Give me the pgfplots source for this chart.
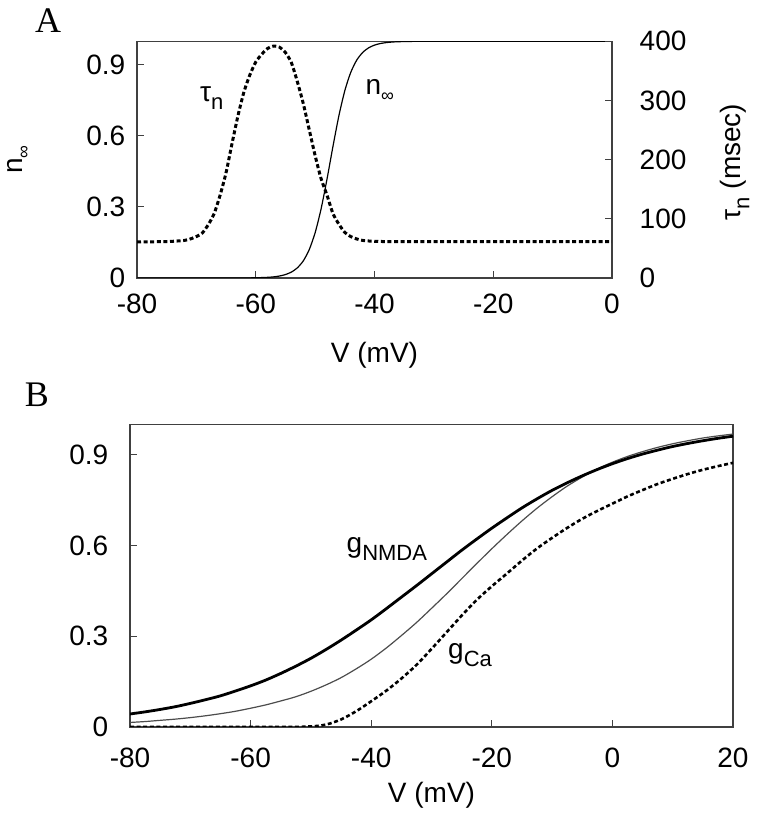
\documentclass[border=0pt]{standalone}
\usepackage{fontspec}
\setmainfont{Liberation Sans}
\newfontfamily\panelfont{Liberation Serif}
\usepackage{pgfplots}
\pgfplotsset{compat=1.18}
\newcommand\sub[1]{\raisebox{-0.3em}{\fontsize{11bp}{12bp}\selectfont #1}}
\newcommand\subinf{\raisebox{-0.25em}{\fontsize{9bp}{10bp}\selectfont ∞}}
\pgfplotsset{
  common/.style={
    scale only axis,
    tick align=inside,
    major tick length=3.5bp,
    every tick/.style={black!75, line width=0.5bp},
    axis line style={black!75, line width=0.6bp},
    tick label style={font=\fontsize{14bp}{16bp}\selectfont},
    label style={font=\fontsize{14bp}{16bp}\selectfont},
  },
  dashedcurve/.style={black, line width=1.5bp, dash pattern=on 2bp off 1.3bp},
}
\begin{document}
\fontsize{14bp}{16bp}\selectfont
\begin{tikzpicture}
\path[use as bounding box] (0,0) rectangle (379.5bp,409.5bp);
\node[font=\panelfont\fontsize{18bp}{20bp}\selectfont] at (24bp,399bp) {A};
\node[font=\panelfont\fontsize{18bp}{20bp}\selectfont] at (18.5bp,212bp) {B};
% ---------------- Panel A, left axis (n_inf)
\begin{axis}[common,
  at={(68.5bp,270.5bp)}, anchor=south west,
  width=237.5bp, height=118.35bp,
  xmin=-80, xmax=0, ymin=0, ymax=1,
  xtick={-80,-60,-40,-20,0}, xticklabels={-80,-60,-40,-20,0},
  ytick={0,0.3,0.6,0.9}, yticklabels={0,0.3,0.6,0.9},
  xtick pos=bottom, ytick pos=left,
  xticklabel style={yshift=-3bp},
  yticklabel style={xshift=-1bp},
  xlabel={V (mV)},
  xlabel style={at={(axis description cs:0.5,-0.325)}, anchor=center},
  ylabel={n\subinf},
  ylabel style={at={(axis description cs:-0.25,0.5)}, anchor=center},
]
\addplot[black, line width=0.6bp, smooth, tension=0.4] coordinates {
(-80,0)(-64,0.0001)(-62,0.0003)(-60,0.0009)(-58,0.0028)(-57,0.0048)(-56,0.0083)(-55,0.0145)(-54,0.0249)(-53,0.0427)(-52,0.072)(-51,0.1192)(-50,0.1909)(-49,0.2913)(-48,0.4174)(-47,0.5553)(-46,0.6852)(-45,0.7914)(-44,0.8686)(-43,0.9202)(-42,0.9526)(-41,0.9722)(-40,0.9839)(-39,0.9907)(-38,0.9946)(-37,0.9969)(-36,0.9982)(-34,0.9994)(-30,1)(0,1)
};
\node at (axis cs:-67.4,0.76) {τ\sub{n}};
\node at (axis cs:-39.1,0.794) {n\subinf};
\end{axis}
% ---------------- Panel A, right axis (tau_n)
\begin{axis}[common,
  at={(68.5bp,270.5bp)}, anchor=south west,
  width=237.5bp, height=118.35bp,
  xmin=-80, xmax=0, ymin=0, ymax=400,
  axis x line=none, axis y line*=right,
  ytick={0,100,200,300,400}, yticklabels={0,100,200,300,400},
  yticklabel style={xshift=9bp},
  ylabel={τ\sub{n} (msec)},
  ylabel style={at={(axis description cs:1.259,0.49)}, anchor=center},
]
\addplot[dashedcurve, smooth, tension=0.4] coordinates {
(-80,61)(-75,61.5)(-72,63.5)(-71,66)(-70,70)(-69,76)(-68,90)(-67,109)(-66,140)(-65,178)(-64,227)(-63,274)(-62,314)(-61,343)(-60,365)(-59,378)(-58,388)(-57,392)(-56,390)(-55,381)(-54,364)(-53,332)(-52,295)(-51,251)(-50,207)(-49,168)(-48,140)(-47,109)(-46,91)(-45,77)(-44,70)(-43,66)(-42,63.5)(-40,62)(-35,61.5)(0,61.5)
};
\end{axis}
% ---------------- Panel B
\begin{axis}[common,
  at={(65bp,46bp)}, anchor=south west,
  width=301.5bp, height=151.3bp,
  xmin=-80, xmax=20, ymin=0, ymax=1,
  xtick={-80,-60,-40,-20,0,20}, xticklabels={-80,-60,-40,-20,0,20},
  ytick={0,0.3,0.6,0.9}, yticklabels={0,0.3,0.6,0.9},
  xtick pos=bottom, ytick pos=left,
  xticklabel style={yshift=-5.5bp},
  yticklabel style={xshift=-6bp},
  xlabel={V (mV)},
  xlabel style={at={(axis description cs:0.5,-0.225)}, anchor=center},
]
\addplot[black!70, line width=0.6bp, smooth] coordinates {
(-80,0.015)(-77.5,0.018)(-75,0.022)(-72.5,0.026)(-70,0.031)(-67.5,0.037)(-65,0.044)(-62.5,0.052)(-60,0.062)(-57.5,0.073)(-55,0.086)(-52.5,0.100)(-50,0.118)(-47.5,0.139)(-45,0.163)(-42.5,0.192)(-40,0.224)(-37.5,0.261)(-35,0.302)(-32.5,0.345)(-30,0.392)(-27.5,0.440)(-25,0.490)(-22.5,0.540)(-20,0.589)(-17.5,0.636)(-15,0.681)(-12.5,0.723)(-10,0.761)(-7.5,0.796)(-5,0.826)(-2.5,0.853)(0,0.875)(2.5,0.894)(5,0.910)(7.5,0.924)(10,0.936)(12.5,0.946)(15,0.955)(17.5,0.962)(20,0.968)
};
\addplot[black, line width=1.4bp, smooth] coordinates {
(-80,0.043)(-77.5,0.050)(-75,0.058)(-72.5,0.067)(-70,0.078)(-67.5,0.090)(-65,0.103)(-62.5,0.119)(-60,0.136)(-57.5,0.155)(-55,0.177)(-52.5,0.201)(-50,0.227)(-47.5,0.256)(-45,0.287)(-42.5,0.320)(-40,0.354)(-37.5,0.391)(-35,0.429)(-32.5,0.467)(-30,0.506)(-27.5,0.545)(-25,0.584)(-22.5,0.621)(-20,0.657)(-17.5,0.691)(-15,0.724)(-12.5,0.754)(-10,0.782)(-7.5,0.807)(-5,0.830)(-2.5,0.851)(0,0.870)(2.5,0.887)(5,0.902)(7.5,0.915)(10,0.927)(12.5,0.937)(15,0.946)(17.5,0.954)(20,0.961)
};
\addplot[dashedcurve, line width=1.3bp, smooth] coordinates {
(-80,0)(-55,0)(-50,0.002)(-47.5,0.008)(-45,0.025)(-42.5,0.052)(-40,0.085)(-37.5,0.12)(-35,0.16)(-32.5,0.205)(-30,0.258)(-27.5,0.313)(-25,0.368)(-22.5,0.42)(-20,0.465)(-17.5,0.507)(-15,0.55)(-12.5,0.59)(-10,0.625)(-7.5,0.658)(-5,0.688)(-2.5,0.714)(0,0.738)(2.5,0.762)(5,0.783)(7.5,0.803)(10,0.82)(12.5,0.836)(15,0.85)(17.5,0.862)(20,0.873)
};
\node at (axis cs:-37.4,0.588) {g\sub{NMDA}};
\node at (axis cs:-23.6,0.238) {g\sub{Ca}};
\end{axis}
\end{tikzpicture}
\end{document}
